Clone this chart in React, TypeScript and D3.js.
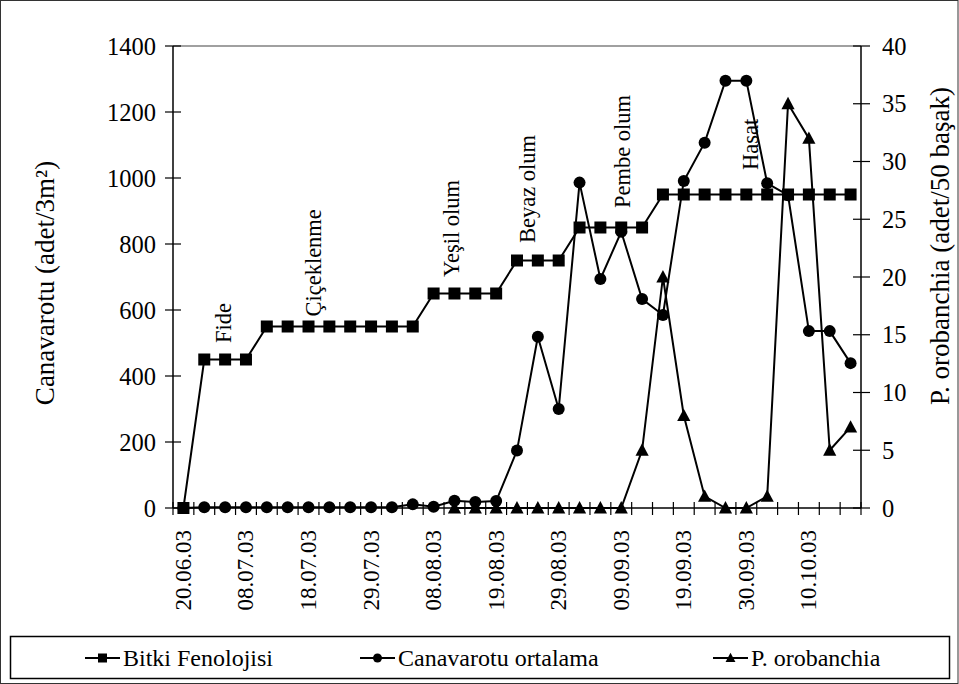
import React from "react";
import * as d3 from "d3";

const categories = [
  "20.06.03", "26.06.03", "02.07.03", "08.07.03", "11.07.03", "15.07.03", "18.07.03",
  "22.07.03", "25.07.03", "29.07.03", "01.08.03", "05.08.03", "08.08.03", "12.08.03",
  "15.08.03", "19.08.03", "22.08.03", "26.08.03", "29.08.03", "02.09.03", "05.09.03",
  "09.09.03", "12.09.03", "16.09.03", "19.09.03", "23.09.03", "26.09.03", "30.09.03",
  "03.10.03", "07.10.03", "10.10.03", "14.10.03", "17.10.03",
];

const phenology = [
  0, 450, 450, 450, 550, 550, 550, 550, 550, 550, 550, 550, 650, 650, 650, 650,
  750, 750, 750, 850, 850, 850, 850, 950, 950, 950, 950, 950, 950, 950, 950, 950, 950,
];

const broomrape = [
  0, 2, 2, 2, 2, 2, 2, 2, 2, 2, 2, 11, 4, 22, 18, 21, 174, 519, 300, 986, 694, 837,
  633, 585, 991, 1107, 1295, 1295, 984, 948, 536, 536, 439,
];

const orobanchia: (number | null)[] = [
  null, null, null, null, null, null, null, null, null, null, null, null, null,
  0, 0, 0, 0, 0, 0, 0, 0, 0, 5, 20, 8, 1, 0, 0, 1, 35, 32, 5, 7,
];

const leftTicks = [0, 200, 400, 600, 800, 1000, 1200, 1400];
const rightTicks = [0, 5, 10, 15, 20, 25, 30, 35, 40];

const stageLabels = ["Fide", "Çiçeklenme", "Yeşil olum", "Beyaz olum", "Pembe olum", "Hasat"];
const stagePos = [1.9, 6.25, 12.85, 16.5, 21.05, 27.2];
const stageValue = [500, 580, 700, 803, 909, 1024];

const seriesNames = ["Bitki Fenolojisi", "Canavarotu ortalama", "P. orobanchia"];

const leftTitle = "Canavarotu (adet/3m²)";
const rightTitle = "P. orobanchia (adet/50 başak)";

const FONT = "Liberation Serif, DejaVu Serif, Times New Roman, serif";

function marker(kind: number, cx: number, cy: number, s: number, key?: any) {
  if (kind === 0) {
    return <rect key={key} x={cx - s / 2} y={cy - s / 2} width={s} height={s} fill="#000" />;
  }
  if (kind === 1) {
    return <circle key={key} cx={cx} cy={cy} r={s / 2} fill="#000" />;
  }
  const h = s * 1.0;
  return (
    <path
      key={key}
      d={`M${cx},${cy - h * 0.58}L${cx + s * 0.55},${cy + h * 0.45}L${cx - s * 0.55},${cy + h * 0.45}Z`}
      fill="#000"
    />
  );
}

export default function App() {
  const W = 959;
  const H = 684;
  const left = 173;
  const right = 861;
  const top = 46;
  const bottom = 508;
  const n = categories.length;

  const xb = d3.scaleLinear().domain([0, n]).range([left, right]);
  const xc = (i: number) => xb(i + 0.5);
  const yL = d3.scaleLinear().domain([0, 1400]).range([bottom, top]);
  const yR = d3.scaleLinear().domain([0, 40]).range([bottom, top]);

  const lineL = d3
    .line<number | null>()
    .defined((d) => d != null)
    .x((_, i) => xc(i))
    .y((d) => yL(d as number));
  const lineR = d3
    .line<number | null>()
    .defined((d) => d != null)
    .x((_, i) => xc(i))
    .y((d) => yR(d as number));

  const tickIdx = d3.range(n + 1);
  const series = [
    { data: phenology as (number | null)[], line: lineL, y: yL },
    { data: broomrape as (number | null)[], line: lineL, y: yL },
    { data: orobanchia, line: lineR, y: yR },
  ];

  const legendX = [85, 360, 713];
  const ts = { fontFamily: FONT };

  return (
    <svg
      width={W}
      height={H}
      style={{ position: "absolute", left: 0, top: 0, background: "#fff", fontFamily: FONT }}
    >
      <rect x={0.5} y={0.5} width={W - 1.5} height={H - 1} fill="#fff" stroke="#333" strokeWidth={1} />

      {/* plot top border */}
      <line x1={left} x2={right} y1={top} y2={top} stroke="#808080" strokeWidth={1.5} />

      {/* left axis */}
      <line x1={left} x2={left} y1={top} y2={bottom} stroke="#000" strokeWidth={1.5} />
      {leftTicks.map((t) => (
        <g key={"l" + t}>
          <line x1={left - 8} x2={left + 8} y1={yL(t)} y2={yL(t)} stroke="#000" strokeWidth={1.2} />
          <text style={ts} x={156} y={yL(t)} textAnchor="end" dominantBaseline="central" fontSize={24.5}>
            {t}
          </text>
        </g>
      ))}

      {/* right axis */}
      <line x1={right} x2={right} y1={top} y2={bottom} stroke="#000" strokeWidth={1.5} />
      {rightTicks.map((t) => (
        <g key={"r" + t}>
          <line x1={right - 8} x2={right + 9} y1={yR(t)} y2={yR(t)} stroke="#000" strokeWidth={1.2} />
          <text style={ts} x={882} y={yR(t)} textAnchor="start" dominantBaseline="central" fontSize={24.5}>
            {t}
          </text>
        </g>
      ))}

      {/* x axis */}
      <line x1={left} x2={right} y1={bottom} y2={bottom} stroke="#000" strokeWidth={1.5} />
      {tickIdx.map((i) => (
        <line key={"xt" + i} x1={xb(i)} x2={xb(i)} y1={bottom - 6} y2={bottom + 7} stroke="#000" strokeWidth={1.2} />
      ))}
      {categories.map((c, i) =>
        i % 3 === 0 ? (
          <text
            key={"xl" + i}
            style={ts}
            transform={`translate(${xc(i)},${530}) rotate(-90)`}
            textAnchor="end"
            dominantBaseline="central"
            fontSize={23}
          >
            {c}
          </text>
        ) : null
      )}

      {/* axis titles */}
      <text
        style={ts}
        transform={`translate(45,${283}) rotate(-90)`}
        textAnchor="middle"
        dominantBaseline="central"
        fontSize={27}
      >
        {leftTitle}
      </text>
      <text
        style={ts}
        transform={`translate(940,${246}) rotate(-90)`}
        textAnchor="middle"
        dominantBaseline="central"
        fontSize={27}
      >
        {rightTitle}
      </text>

      {/* series */}
      {series.map((s, k) => (
        <g key={"s" + k}>
          <path d={s.line(s.data) || ""} fill="none" stroke="#000" strokeWidth={2} />
          {s.data.map((d, i) => (d == null ? null : marker(k, xc(i), s.y(d), 12, "m" + k + "-" + i)))}
        </g>
      ))}

      {/* stage annotations */}
      {stageLabels.map((l, i) => (
        <text
          key={"st" + i}
          style={ts}
          transform={`translate(${xb(stagePos[i] + 0.5)},${yL(stageValue[i])}) rotate(-90)`}
          textAnchor="start"
          dominantBaseline="central"
          fontSize={22.5}
        >
          {l}
        </text>
      ))}

      {/* legend */}
      <rect x={10.5} y={636.5} width={939} height={42} fill="#fff" stroke="#000" strokeWidth={1.5} />
      {seriesNames.map((name, k) => (
        <g key={"lg" + k}>
          <line x1={legendX[k]} x2={legendX[k] + 35} y1={658} y2={658} stroke="#000" strokeWidth={2} />
          {marker(k, legendX[k] + 17.5, 658, 9)}
          <text style={ts} x={legendX[k] + 38} y={658} dominantBaseline="central" fontSize={24}>
            {name}
          </text>
        </g>
      ))}
    </svg>
  );
}
